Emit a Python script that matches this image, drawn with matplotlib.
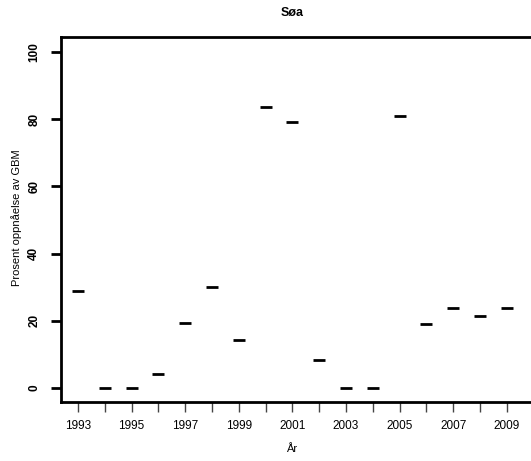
import matplotlib
matplotlib.use("Agg")
import matplotlib.pyplot as plt

years = [1993, 1994, 1995, 1996, 1997, 1998, 1999, 2000, 2001, 2002,
         2003, 2004, 2005, 2006, 2007, 2008, 2009]
values = [28.7, 0, 0, 4.2, 19.2, 30.0, 14.3, 83.6, 79.3, 8.3,
          0, 0, 81.0, 19.0, 23.8, 21.4, 23.8]
yticks = [0, 20, 40, 60, 80, 100]

plt.rcParams['font.family'] = ['Liberation Sans', 'DejaVu Sans']

W, H = 531, 461
fig = plt.figure(figsize=(W / 100, H / 100), dpi=100)
ax = fig.add_axes([61 / W, (H - 402) / H, (W - 61) / W, 365 / H])

ax.plot(years, values, linestyle='none', marker='_', markersize=9,
        markeredgewidth=2, color='black')

ax.set_xlim(1992.366, 2009.9)
ax.set_ylim(-4.26, 104.56)

ax.spines['right'].set_visible(False)
for s in ['left', 'top', 'bottom']:
    ax.spines[s].set_linewidth(2)

ax.set_xticks(years)
ax.set_xticklabels([str(y) if (y - 1993) % 2 == 0 else '' for y in years],
                   fontsize=8.5)
ax.tick_params(axis='x', length=7, width=1, color='#444444', pad=6)
ax.set_yticks(yticks)
ax.set_yticklabels([str(v) for v in yticks], rotation=90, va='center',
                   fontsize=8.5, fontweight='bold')
ax.tick_params(axis='y', length=7, width=2, pad=8)

fig.text(292 / W, 1 - 13 / H, 'Søa', ha='center', va='center',
         fontsize=9, fontweight='bold')
fig.text(292 / W, 1 - 449 / H, 'År', ha='center', va='center', fontsize=8)
fig.text(17 / W, 1 - 218 / H, 'Prosent oppnåelse av GBM', ha='center',
         va='center', rotation=90, fontsize=8)

fig.savefig('out.png', dpi=100)
